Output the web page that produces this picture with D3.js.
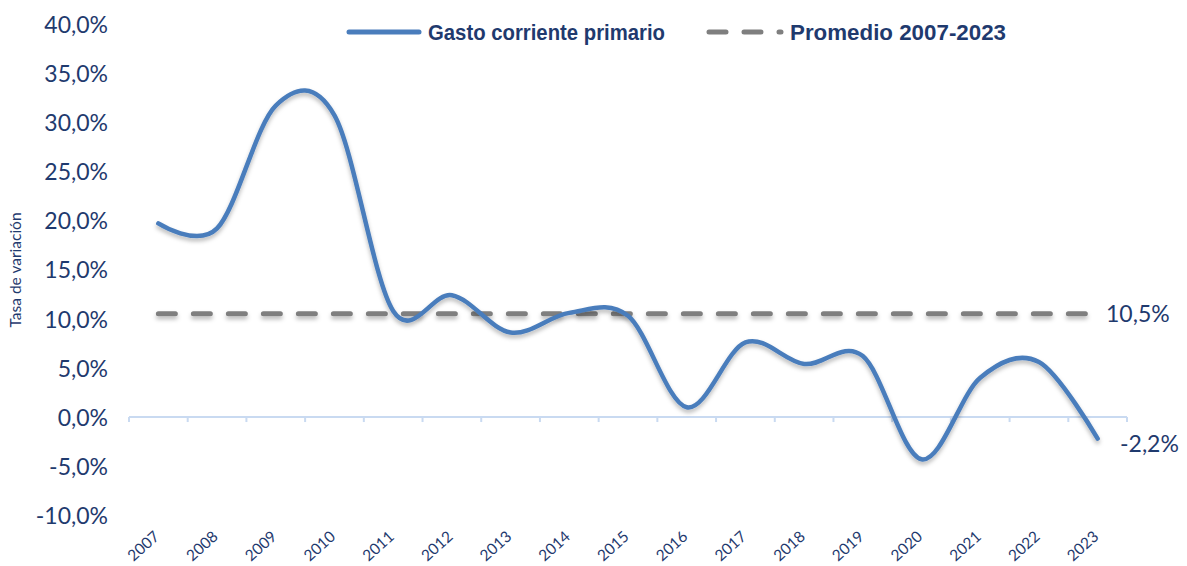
<!DOCTYPE html>
<html>
<head>
<meta charset="utf-8">
<script src="https://cdn.jsdelivr.net/npm/d3@7"></script>
<style>
  body { margin: 0; background: #fff; }
  svg { display: block; }
</style>
</head>
<body>
<div id="chart_block"></div>
<script>
// data
var years = ["2007", "2008", "2009", "2010", "2011", "2012", "2013", "2014", "2015",
    "2016", "2017", "2018", "2019", "2020", "2021", "2022", "2023"]
var gasto = [19.7, 19.2, 31.7, 30.7, 10.8, 12.4, 8.6, 10.6, 10.3,
    1.0, 7.6, 5.4, 6.2, -4.3, 4.0, 5.6, -2.2]
var promedio = 10.5
var yTicks = [-10, -5, 0, 5, 10, 15, 20, 25, 30, 35, 40]

var width = 1187,
    height = 566
var textColor = "#1f3a6e"
var lineColor = "#4a7dbc"
var avgColor = "#7f7f7f"

var svg = d3.select("#chart_block")
    .append("svg")
    .attr("width", width)
    .attr("height", height)

// soft shadow under the lines (user space so flat lines still show)
var defs = svg.append("defs")
var filt = defs.append("filter").attr("id", "shadow")
    .attr("filterUnits", "userSpaceOnUse")
    .attr("x", 0).attr("y", 0).attr("width", width).attr("height", height)
filt.append("feDropShadow")
    .attr("dx", 0).attr("dy", 3).attr("stdDeviation", 2)
    .attr("flood-color", "#000").attr("flood-opacity", 0.28)

var x = d3.scaleBand()
    .domain(years)
    .range([129, 1127])
    .padding(0)

var y = d3.scaleLinear()
    .domain([-10, 40])
    .range([515.3, 24])

var xc = function(d) { return x(d) + x.bandwidth() / 2 }

var fmt = function(v) { return d3.format(".1f")(v).replace(".", ",").replace("−", "-") + "%" }

// y labels
var yAxis = d3.axisLeft(y)
    .tickValues(yTicks)
    .tickSize(0)
    .tickPadding(0)
    .tickFormat(fmt)

var gy = svg.append("g")
    .attr("transform", "translate(108,0)")
    .call(yAxis)
gy.select(".domain").remove()
gy.selectAll("text")
    .style("font", "23px Lato")
    .attr("fill", textColor)
    .attr("dy", "0.36em")

// axis title
svg.append("text")
    .attr("transform", "translate(21," + 270 + ") rotate(-90)")
    .attr("text-anchor", "middle")
    .style("font", "15.5px Lato")
    .attr("fill", textColor)
    .text("Tasa de variación")

// zero line with ticks at category edges
var zeroY = y(0)
svg.append("line")
    .attr("x1", 129).attr("x2", 1127)
    .attr("y1", zeroY).attr("y2", zeroY)
    .attr("stroke", "#c9daf1")
    .attr("stroke-width", 2)

var edges = years.map(function(d) { return x(d) }).concat([x(years[years.length - 1]) + x.bandwidth()])
svg.selectAll(".xtick")
    .data(edges)
    .enter()
    .append("line")
    .attr("class", "xtick")
    .attr("x1", function(d) { return d }).attr("x2", function(d) { return d })
    .attr("y1", zeroY).attr("y2", zeroY + 5)
    .attr("stroke", "#c9daf1")
    .attr("stroke-width", 2)

// x labels, rotated
svg.selectAll(".xlab")
    .data(years)
    .enter()
    .append("text")
    .attr("class", "xlab")
    .attr("transform", function(d) { return "translate(" + (xc(d) + 2) + ",538) rotate(-42)" })
    .attr("text-anchor", "end")
    .style("font", "15.5px Lato")
    .attr("fill", textColor)
    .text(function(d) { return d })

// average line
svg.append("line")
    .attr("x1", xc(years[0])).attr("x2", xc(years[years.length - 1]))
    .attr("y1", y(promedio)).attr("y2", y(promedio))
    .attr("stroke", avgColor)
    .attr("stroke-width", 5)
    .attr("stroke-linecap", "round")
    .attr("stroke-dasharray", "17,18")
    .attr("filter", "url(#shadow)")

// main series
var line = d3.line()
    .x(function(d, i) { return xc(years[i]) })
    .y(function(d) { return y(d) })
    .curve(d3.curveCatmullRom.alpha(0))

svg.append("path")
    .datum(gasto)
    .attr("d", line)
    .attr("fill", "none")
    .attr("stroke", lineColor)
    .attr("stroke-width", 4.5)
    .attr("stroke-linecap", "round")
    .attr("filter", "url(#shadow)")

// end labels
svg.append("text")
    .attr("x", 1106).attr("y", y(promedio))
    .attr("dy", "0.36em")
    .style("font", "23px Lato")
    .attr("fill", textColor)
    .text(fmt(promedio))

svg.append("text")
    .attr("x", 1120).attr("y", y(gasto[gasto.length - 1]) + 5)
    .attr("dy", "0.36em")
    .style("font", "23px Lato")
    .attr("fill", textColor)
    .text(fmt(gasto[gasto.length - 1]))

// legend
var legend = svg.append("g")
legend.append("line")
    .attr("x1", 349).attr("x2", 419)
    .attr("y1", 32).attr("y2", 32)
    .attr("stroke", lineColor)
    .attr("stroke-width", 5)
    .attr("stroke-linecap", "round")
legend.append("text")
    .attr("x", 428).attr("y", 32)
    .attr("dy", "0.36em")
    .attr("textLength", 237)
    .attr("lengthAdjust", "spacingAndGlyphs")
    .style("font", "bold 22px 'Liberation Sans Narrow', 'Liberation Sans'")
    .attr("fill", textColor)
    .text("Gasto corriente primario")
legend.append("line")
    .attr("x1", 709).attr("x2", 781)
    .attr("y1", 32).attr("y2", 32)
    .attr("stroke", avgColor)
    .attr("stroke-width", 5)
    .attr("stroke-linecap", "round")
    .attr("stroke-dasharray", "17,18")
legend.append("text")
    .attr("x", 790).attr("y", 32)
    .attr("dy", "0.36em")
    .attr("textLength", 216)
    .attr("lengthAdjust", "spacingAndGlyphs")
    .style("font", "bold 22px 'Liberation Sans Narrow', 'Liberation Sans'")
    .attr("fill", textColor)
    .text("Promedio 2007-2023")
</script>
</body>
</html>
